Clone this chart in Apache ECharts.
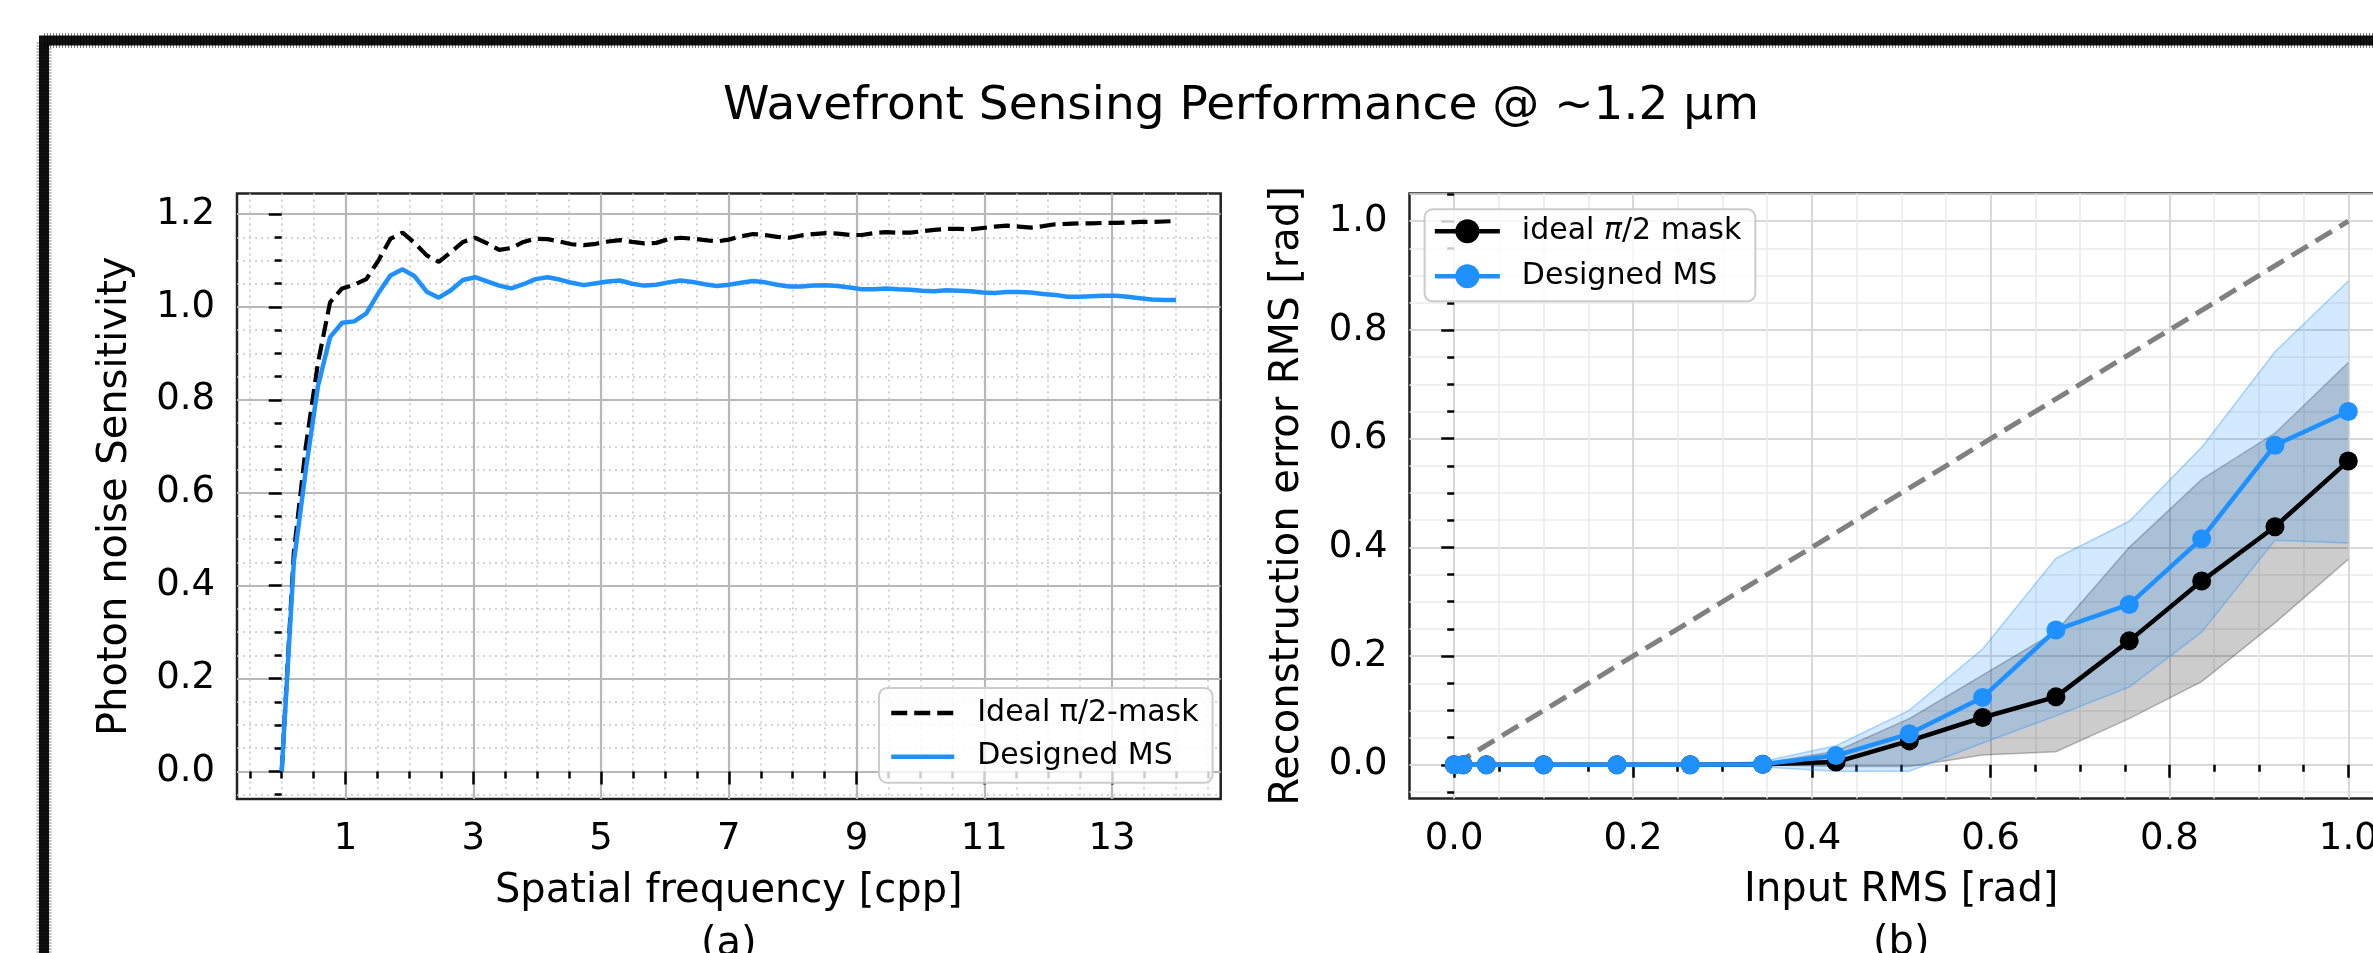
<!DOCTYPE html>
<html><head><meta charset="utf-8">
<script src="https://cdn.jsdelivr.net/npm/echarts@6/dist/echarts.min.js"></script>
<style>html,body{margin:0;padding:0;background:#fff;}#c{width:2373px;height:953px;}</style>
</head><body><div id="c"></div>
<script>
// ---------- Panel (a) data ----------
const freqX = [0, 0.189, 0.378, 0.568, 0.757, 0.946, 1.135, 1.324, 1.514, 1.703, 1.892, 2.081, 2.270, 2.459, 2.649,
  2.838, 3.027, 3.216, 3.405, 3.595, 3.784, 3.973, 4.162, 4.351, 4.541, 4.730, 4.919, 5.108, 5.297, 5.486,
  5.676, 5.865, 6.054, 6.243, 6.432, 6.622, 6.811, 7.000, 7.189, 7.378, 7.568, 7.757, 7.946, 8.135, 8.324,
  8.514, 8.703, 8.892, 9.081, 9.270, 9.459, 9.649, 9.838, 10.027, 10.216, 10.405, 10.595, 10.784, 10.973, 11.162,
  11.351, 11.541, 11.730, 11.919, 12.108, 12.297, 12.486, 12.676, 12.865, 13.054, 13.243, 13.432, 13.622, 13.811, 14.000];
const idealMaskSens = [0, 0.47, 0.70, 0.88, 1.01, 1.04, 1.048, 1.06, 1.10, 1.147, 1.160, 1.138, 1.111, 1.097, 1.118,
  1.140, 1.149, 1.137, 1.123, 1.127, 1.140, 1.147, 1.146, 1.141, 1.135, 1.133, 1.136, 1.141, 1.144, 1.140,
  1.137, 1.138, 1.146, 1.149, 1.147, 1.144, 1.141, 1.145, 1.152, 1.157, 1.155, 1.151, 1.149, 1.154, 1.157,
  1.159, 1.158, 1.155, 1.155, 1.159, 1.161, 1.160, 1.160, 1.163, 1.166, 1.168, 1.168, 1.167, 1.170, 1.173,
  1.175, 1.173, 1.171, 1.174, 1.178, 1.179, 1.180, 1.180, 1.181, 1.181, 1.182, 1.183, 1.183, 1.184, 1.185];
const designedMsSens = [0, 0.45, 0.65, 0.83, 0.935, 0.966, 0.969, 0.986, 1.03, 1.068, 1.081, 1.066, 1.033, 1.020, 1.036,
  1.058, 1.064, 1.055, 1.046, 1.040, 1.049, 1.060, 1.064, 1.059, 1.052, 1.047, 1.051, 1.055, 1.057, 1.050,
  1.046, 1.048, 1.053, 1.057, 1.054, 1.049, 1.045, 1.048, 1.052, 1.056, 1.053, 1.048, 1.044, 1.044, 1.046,
  1.047, 1.045, 1.042, 1.038, 1.038, 1.040, 1.038, 1.037, 1.035, 1.034, 1.036, 1.035, 1.034, 1.031, 1.030,
  1.032, 1.032, 1.031, 1.028, 1.026, 1.022, 1.022, 1.023, 1.024, 1.024, 1.022, 1.019, 1.016, 1.015, 1.015];
const leftXTicks = [1, 3, 5, 7, 9, 11, 13];
const leftYTicks = [0, 0.2, 0.4, 0.6, 0.8, 1.0, 1.2];

// ---------- Panel (b) data ----------
const inputRms = [0, 0.01, 0.036, 0.1, 0.182, 0.264, 0.345, 0.427, 0.509, 0.591, 0.673, 0.755, 0.836, 0.918, 1.0];
const idealErr = [0, 0, 0, 0, 0, 0, 0.001, 0.005, 0.044, 0.087, 0.125, 0.228, 0.338, 0.438, 0.559];
const idealLow = [0, 0, 0, 0, 0, 0, 0, -0.003, -0.003, 0.018, 0.024, 0.085, 0.153, 0.261, 0.378];
const idealHigh = [0, 0, 0, 0, 0, 0, 0.003, 0.025, 0.085, 0.165, 0.245, 0.40, 0.525, 0.61, 0.74];
const designedErr = [0, 0, 0, 0, 0, 0, 0.001, 0.017, 0.057, 0.124, 0.248, 0.295, 0.416, 0.588, 0.65];
const designedLow = [0, 0, 0, 0, 0, 0, -0.004, -0.012, -0.012, 0.04, 0.09, 0.143, 0.244, 0.413, 0.408];
const designedHigh = [0, 0, 0, 0, 0, 0, 0.006, 0.035, 0.10, 0.213, 0.38, 0.448, 0.584, 0.76, 0.89];
const diagX = [0, 1];
const diagY = [0, 1];
const rightXTicks = [0, 0.2, 0.4, 0.6, 0.8, 1.0];
const rightYTicks = [0, 0.2, 0.4, 0.6, 0.8, 1.0];

// ---------- helpers ----------
const FONT = 'DejaVu Sans';
const pairs = (xs, ys) => xs.map((x, i) => [x, ys[i]]);
function minorValues(start, end, step, majors) {
  const out = [];
  const n = Math.round((end - start) / step);
  for (let i = 0; i <= n; i++) {
    const v = +(start + i * step).toFixed(4);
    if (!majors.some(m => Math.abs(m - v) < 1e-6)) out.push(v);
  }
  return out;
}
const TICK = {color: '#000', width: 2.5};
const LABEL = {fontSize: 37, fontFamily: FONT, color: '#000'};

function majorAxis(gridIndex, min, max, ticks, fmt, splitStyle, extra) {
  return Object.assign({
    type: 'value', gridIndex, min, max,
    axisLine: {show: false},
    axisTick: {show: true, length: 13, lineStyle: TICK, customValues: ticks},
    axisLabel: Object.assign({customValues: ticks, formatter: fmt, margin: 22}, LABEL),
    splitLine: {show: true, lineStyle: splitStyle},
    minorTick: {show: false}, minorSplitLine: {show: false}
  }, extra);
}
function minorAxis(gridIndex, min, max, vals, splitStyle, pos) {
  return {
    type: 'value', gridIndex, min, max, position: pos,
    axisLine: {show: false},
    axisTick: {show: true, length: 7, lineStyle: TICK, customValues: vals},
    axisLabel: {show: false},
    splitLine: {show: true, lineStyle: splitStyle}
  };
}
// shaded band between two curves, positioned through the axes' own scales (api.coord)
function bandSeries(xs, lo, hi, fill, edge, z) {
  return {
    type: 'custom', xAxisIndex: 2, yAxisIndex: 2, z, silent: true, clip: true,
    data: xs.map((x, i) => [x, lo[i], hi[i]]),
    encode: {x: 0, y: [1, 2]},
    renderItem: (params, api) => {
      if (params.dataIndex !== 0) return null;
      const upper = xs.map((x, i) => api.coord([x, hi[i]]));
      const lower = xs.map((x, i) => api.coord([x, lo[i]]));
      return {type: 'group', children: [
        {type: 'polygon', shape: {points: upper.concat(lower.slice().reverse())}, style: {fill: fill, stroke: null}},
        {type: 'polyline', shape: {points: upper}, style: {stroke: edge, lineWidth: 1.5, fill: null}},
        {type: 'polyline', shape: {points: lower}, style: {stroke: edge, lineWidth: 1.5, fill: null}}
      ]};
    }
  };
}

const L = {xmin: -0.7, xmax: 14.7, ymin: -0.0593, ymax: 1.2443};
const R = {xmin: -0.05, xmax: 1.05, ymin: -0.062, ymax: 1.051};

const leftMajorSplit = {color: '#b8b8b8', width: 2.2};
const leftMinorSplit = {color: '#c8c8c8', width: 1.6, type: [2, 4]};
const rightMajorSplit = {color: '#d8d8d8', width: 2};
const rightMinorSplit = {color: '#ebebeb', width: 1.6};

const nameStyle = {fontSize: 40, fontFamily: FONT, color: '#000', lineHeight: 53};

const chart = echarts.init(document.getElementById('c'), null, {renderer: 'canvas'});
const option = {
  animation: false,
  backgroundColor: '#fff',
  textStyle: {fontFamily: FONT},
  graphic: [
    {type: 'rect', silent: true, z: 100,
     shape: {x: 44, y: 40.5, width: 2500, height: 1100},
     style: {fill: 'none', stroke: '#111', lineWidth: 10}},
    {type: 'rect', silent: true, z: 100,
     shape: {x: 44, y: 40.5, width: 2500, height: 1100},
     style: {fill: 'none', stroke: 'rgba(0,0,0,0.5)', lineWidth: 15, lineDash: [1, 2]}},
    {type: 'text', silent: true, x: 1241, y: 107,
     style: {text: 'Wavefront Sensing Performance @ ~1.2 µm', font: '47px "DejaVu Sans"',
             fill: '#000', textAlign: 'center', textVerticalAlign: 'middle'}}
  ],
  grid: [
    {left: 237, top: 193.5, width: 983.7, height: 605.5, show: true, borderColor: '#222', borderWidth: 2.5,
     backgroundColor: 'transparent', containLabel: false, outerBoundsMode: 'none'},
    {left: 1409.5, top: 193.5, width: 983.5, height: 605, show: true, borderColor: '#222', borderWidth: 2.5,
     backgroundColor: 'transparent', containLabel: false, outerBoundsMode: 'none'}
  ],
  xAxis: [
    majorAxis(0, L.xmin, L.xmax, leftXTicks, v => String(Math.round(v)), leftMajorSplit,
      {position: 'bottom', name: 'Spatial frequency [cpp]\n(a)', nameLocation: 'middle', nameGap: 66, nameTextStyle: nameStyle}),
    minorAxis(0, L.xmin, L.xmax, minorValues(-0.5, 14.5, 0.5, leftXTicks), leftMinorSplit, 'bottom'),
    majorAxis(1, R.xmin, R.xmax, rightXTicks, v => v.toFixed(1), rightMajorSplit,
      {position: 'bottom', name: 'Input RMS [rad]\n(b)', nameLocation: 'middle', nameGap: 66, nameTextStyle: nameStyle}),
    minorAxis(1, R.xmin, R.xmax, minorValues(0.05, 1.05, 0.05, rightXTicks), rightMinorSplit, 'bottom')
  ],
  yAxis: [
    majorAxis(0, L.ymin, L.ymax, leftYTicks, v => v.toFixed(1), leftMajorSplit,
      {position: 'left', name: 'Photon noise Sensitivity', nameLocation: 'middle', nameGap: 95, nameTextStyle: nameStyle}),
    minorAxis(0, L.ymin, L.ymax, minorValues(-0.05, 1.2, 0.05, leftYTicks), leftMinorSplit, 'left'),
    majorAxis(1, R.ymin, R.ymax, rightYTicks, v => v.toFixed(1), rightMajorSplit,
      {position: 'left', name: 'Reconstruction error RMS [rad]', nameLocation: 'middle', nameGap: 95, nameTextStyle: nameStyle}),
    minorAxis(1, R.ymin, R.ymax, minorValues(-0.05, 1.05, 0.05, rightYTicks), rightMinorSplit, 'left')
  ],
  legend: [
    {orient: 'vertical', left: 879, top: 688, selectedMode: false,
     data: ['Ideal π/2-mask', 'Designed MS'],
     itemWidth: 63, itemHeight: 16, itemGap: 13.7,
     padding: [10, 14, 11, 10],
     lineStyle: {width: 4.5},
     itemStyle: {color: 'transparent', borderColor: 'transparent', borderWidth: 0, opacity: 0},
     backgroundColor: 'rgba(255,255,255,0.8)', borderColor: '#cccccc', borderWidth: 2, borderRadius: 8,
     textStyle: {fontSize: 30, fontFamily: FONT, color: '#000', lineHeight: 30, padding: [0, 0, 0, 18]}},
    {orient: 'vertical', left: 1424.6, top: 209.3, selectedMode: false,
     data: ['ideal π/2 mask', 'Designed MS '],
     itemWidth: 65, itemHeight: 30, itemGap: 15,
     padding: [7, 14, 10, 8],
     lineStyle: {width: 4.5},
     backgroundColor: 'rgba(255,255,255,0.8)', borderColor: '#cccccc', borderWidth: 2, borderRadius: 8,
     formatter: n => n.indexOf('ideal') === 0 ? '{n|ideal }{i|π}{n|/2 mask}' : n,
     textStyle: {fontSize: 30, fontFamily: FONT, color: '#000', lineHeight: 30, padding: [0, 0, 0, 17],
       rich: {n: {fontSize: 30, fontFamily: FONT, color: '#000'},
              i: {fontSize: 30, fontFamily: FONT, color: '#000', fontStyle: 'italic'}}}}
  ],
  series: [
    // ---- panel (a)
    {type: 'line', name: 'Ideal π/2-mask', xAxisIndex: 0, yAxisIndex: 0, symbol: 'none',
     data: pairs(freqX, idealMaskSens), z: 3,
     lineStyle: {color: '#000', width: 4.2, type: [16, 7]}},
    {type: 'line', name: 'Designed MS', xAxisIndex: 0, yAxisIndex: 0, symbol: 'none',
     data: pairs(freqX, designedMsSens), z: 3,
     lineStyle: {color: '#1E90FF', width: 4.5}},
    // ---- panel (b)
    {type: 'line', name: 'diag', xAxisIndex: 2, yAxisIndex: 2, symbol: 'none', z: 2,
     data: pairs(diagX, diagY), lineStyle: {color: '#808080', width: 5, type: [19, 9]}},
    bandSeries(inputRms, idealLow, idealHigh, 'rgba(0,0,0,0.2)', 'rgba(0,0,0,0.25)', 1),
    bandSeries(inputRms, designedLow, designedHigh, 'rgba(30,144,255,0.2)', 'rgba(30,144,255,0.35)', 1),
    {type: 'line', name: 'ideal π/2 mask', xAxisIndex: 2, yAxisIndex: 2, z: 4,
     symbol: 'circle', symbolSize: 19, showSymbol: true,
     data: pairs(inputRms, idealErr),
     lineStyle: {color: '#000', width: 4.5}, itemStyle: {color: '#000'}},
    {type: 'line', name: 'Designed MS ', xAxisIndex: 2, yAxisIndex: 2, z: 5,
     symbol: 'circle', symbolSize: 19, showSymbol: true,
     data: pairs(inputRms, designedErr),
     lineStyle: {color: '#1E90FF', width: 4.5}, itemStyle: {color: '#1E90FF'}}
  ]
};
chart.setOption(option);
</script></body></html>
